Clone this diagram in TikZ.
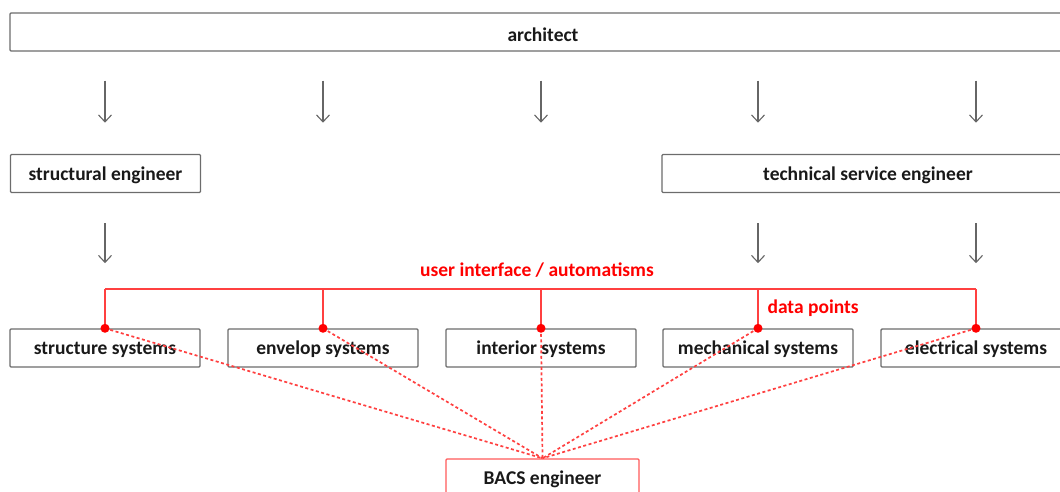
\documentclass[tikz,border=0pt]{standalone}
\usepackage{fontspec}
\setmainfont{Carlito}
\usetikzlibrary{arrows.meta}

\begin{document}
\begin{tikzpicture} [x=1pt,y=1pt,
  box/.style={draw=gray!85!black, line width=1.4pt, rounded corners=1pt, minimum height=38pt, minimum width=190pt, text height=17pt, text depth=4pt, font=\fontsize{19.5}{22}\selectfont\bfseries, text=black!90},
  arr/.style={draw=gray!80!black, line width=1.1pt, -{Straight Barb[length=7pt,width=13pt]}},
  bus/.style={draw=red!75, line width=1.8pt},
  link/.style={draw=red!75, line width=1.7pt, dash pattern=on 3pt off 2.5pt},
  redtxt/.style={text=red, font=\fontsize{19.5}{22}\selectfont\bfseries}]
\useasboundingbox (0,0) rectangle (1060,-492);
\clip (0,0) rectangle (1060,-492);
\node[box, minimum width=1066pt, text height=24pt] (arch) at (543,-32) {architect};
\node[box] (streng) at (105.5,-173.5) {structural engineer};
\node[box, minimum width=412pt] (tseng) at (868,-173.5) {technical service engineer};
\node[box] (strsys) at (105,-348) {structure systems};
\node[box] (envsys) at (323,-348) {envelop systems};
\node[box] (intsys) at (541,-348) {interior systems};
\node[box] (mechsys) at (758,-348) {mechanical systems};
\node[box] (elecsys) at (976,-348) {electrical systems};
\node[box, draw=red!65, minimum width=193pt] (bacs) at (542.5,-478) {BACS engineer};
\foreach \s in {strsys,envsys,intsys,mechsys,elecsys}
  \draw[arr] ([yshift=-29pt]arch.south -| \s.north) -- ([yshift=-71pt]arch.south -| \s.north);
\draw[arr] ([yshift=-30pt]streng.south -| strsys.north) -- ([yshift=-70pt]streng.south -| strsys.north);
\foreach \s in {mechsys,elecsys}
  \draw[arr] ([yshift=-30pt]tseng.south -| \s.north) -- ([yshift=-70pt]tseng.south -| \s.north);
\coordinate (busl) at ([yshift=39pt]strsys.north);
\draw[bus] (busl) -- (busl -| elecsys.north);
\foreach \s in {strsys,envsys,intsys,mechsys,elecsys}
  \draw[bus] (\s.north) -- (\s.north |- busl);
\node[redtxt] (ui) at (537,-270) {user interface / automatisms};
\node[redtxt, anchor=west] (dp) at (764,-308) {data points};
\foreach \s in {strsys,envsys,intsys,mechsys,elecsys}{
  \draw[link] (\s.north) -- (bacs.north);
  \fill[red] (\s.north) circle (4.5pt);
}
\end{tikzpicture}
\end{document}
